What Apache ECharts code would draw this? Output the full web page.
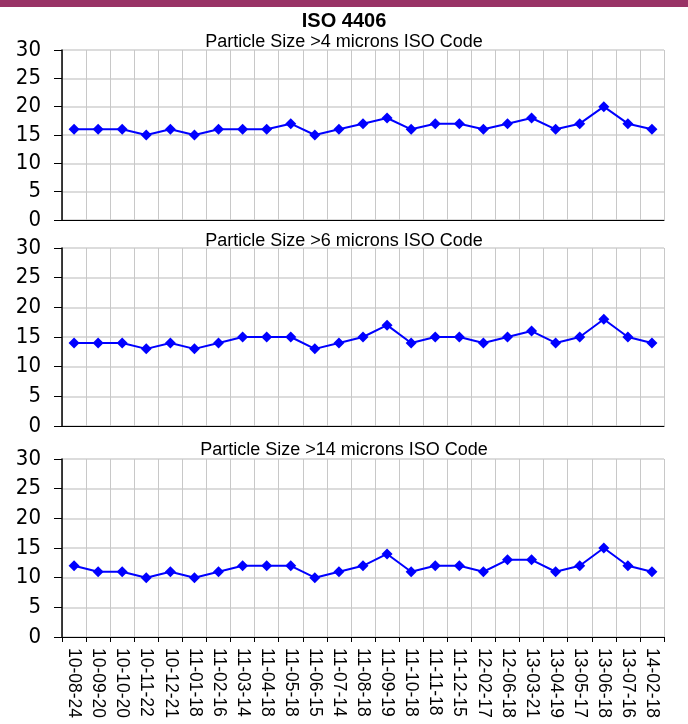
<!DOCTYPE html>
<html>
<head>
<meta charset="utf-8">
<script src="https://cdn.jsdelivr.net/npm/echarts@6/dist/echarts.min.js"></script>
<style>
  html, body { margin: 0; padding: 0; background: #fff; }
  #main { width: 688px; height: 724px; }
</style>
</head>
<body>
<div id="main"></div>
<script>
// sample dates
var dates = ['10-08-24', '10-09-20', '10-10-20', '10-11-22', '10-12-21', '11-01-18', '11-02-16',
    '11-03-14', '11-04-18', '11-05-18', '11-06-15', '11-07-14', '11-08-18', '11-09-19', '11-10-18',
    '11-11-18', '11-12-15', '12-02-17', '12-06-18', '13-03-21', '13-04-19', '13-05-17', '13-06-18',
    '13-07-16', '14-02-18'];

// ISO codes per particle size
var code4 = [16, 16, 16, 15, 16, 15, 16, 16, 16, 17, 15, 16, 17, 18, 16, 17, 17, 16, 17, 18, 16, 17, 20, 17, 16];
var code6 = [14, 14, 14, 13, 14, 13, 14, 15, 15, 15, 13, 14, 15, 17, 14, 15, 15, 14, 15, 16, 14, 15, 18, 15, 14];
var code14 = [12, 11, 11, 10, 11, 10, 11, 12, 12, 12, 10, 11, 12, 14, 11, 12, 12, 11, 13, 13, 11, 12, 15, 12, 11];

var subtitles = ['Particle Size >4 microns ISO Code', 'Particle Size >6 microns ISO Code', 'Particle Size >14 microns ISO Code'];
var allData = [code4, code6, code14];

var grids = [
    { left: 62, right: 24, top: 50, height: 170 },
    { left: 62, right: 24, top: 248, height: 178 },
    { left: 62, right: 24, top: 459, height: 178 }
];
var subTop = [28, 227, 436];

var myChart = echarts.init(document.getElementById('main'));

var xAxes = [], yAxes = [], series = [], titles = [];
titles.push({
    text: 'ISO 4406', left: 'center', top: 6,
    textStyle: { fontFamily: 'Liberation Sans', fontSize: 20, fontWeight: 'bold', color: '#000' }
});
for (let i = 0; i < 3; i++) {
    titles.push({
        text: subtitles[i], left: 'center', top: subTop[i],
        textStyle: { fontFamily: 'Liberation Sans', fontSize: 18, fontWeight: 'normal', color: '#000' }
    });
    xAxes.push({
        type: 'category',
        gridIndex: i,
        data: dates,
        boundaryGap: true,
        axisLine: { lineStyle: { color: '#000', width: 1 } },
        axisTick: { show: i == 2, length: 5, lineStyle: { color: '#000' } },
        axisLabel: {
            show: i == 2, rotate: -90, interval: 0, margin: 11,
            fontFamily: 'Liberation Sans', fontSize: 17.5, color: '#000'
        },
        splitLine: { show: true, interval: 0, lineStyle: { color: '#c8c8c8', width: 1 } }
    });
    yAxes.push({
        type: 'value',
        gridIndex: i,
        min: 0, max: 30, interval: 5,
        axisLine: { show: true, lineStyle: { color: '#000', width: 1.5 } },
        axisTick: { show: true, length: 8, lineStyle: { color: '#000' } },
        axisLabel: {
            margin: 21,
            fontFamily: 'Liberation Sans Narrow, DejaVu Sans Condensed, sans-serif',
            fontSize: 22, color: '#000'
        },
        splitLine: { lineStyle: { color: '#d0d0d0', width: 1.5 } }
    });
    series.push({
        type: 'line',
        xAxisIndex: i,
        yAxisIndex: i,
        data: allData[i],
        symbol: 'diamond',
        symbolSize: 11,
        lineStyle: { color: '#0000ff', width: 2 },
        itemStyle: { color: '#0000ff' },
        animation: false
    });
}

myChart.setOption({
    animation: false,
    title: titles,
    grid: grids,
    xAxis: xAxes,
    yAxis: yAxes,
    series: series,
    graphic: [{
        type: 'rect',
        shape: { x: 0, y: 0, width: 688, height: 7 },
        style: { fill: '#993366' }
    }]
});
</script>
</body>
</html>
